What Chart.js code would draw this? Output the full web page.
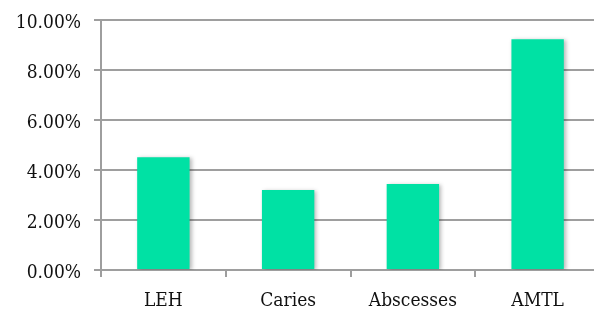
<!DOCTYPE html>
<html>
<head>
<meta charset="utf-8">
<script src="https://cdn.jsdelivr.net/npm/chart.js@4/dist/chart.umd.min.js"></script>
<style>
html,body{margin:0;padding:0;background:#fff;overflow:hidden;}
#wrap{width:600px;height:309px;position:relative;}
</style>
</head>
<body>
<div id="wrap"><canvas id="c"></canvas></div>
<script>
const categories = ["LEH", "Caries", "Abscesses", "AMTL"];
const values = [4.51, 3.2, 3.44, 9.23];
const yTicks = [0, 2, 4, 6, 8, 10];

const shadowPlugin = {
  id: 'barShadow',
  beforeDatasetsDraw(chart) {
    const ctx = chart.ctx;
    ctx.save();
    ctx.shadowColor = 'rgba(0,0,0,0.28)';
    ctx.shadowBlur = 4;
    ctx.shadowOffsetX = 2;
    ctx.shadowOffsetY = 1;
  },
  afterDatasetsDraw(chart) {
    chart.ctx.restore();
  }
};

const fontFam = "'DejaVu Serif Condensed', 'DejaVu Serif', serif";
const gridColor = '#9e9e9e';
new Chart(document.getElementById('c'), {
  type: 'bar',
  data: {
    labels: categories,
    datasets: [{
      data: values,
      backgroundColor: '#00e1a4',
      borderWidth: 0,
      barPercentage: 0.84,
      categoryPercentage: 0.5
    }]
  },
  options: {
    responsive: true,
    maintainAspectRatio: false,
    animation: false,
    devicePixelRatio: 1,
    layout: { padding: { top: 20, left: 0, right: 0, bottom: 0 } },
    plugins: { legend: { display: false }, tooltip: { enabled: false } },
    scales: {
      x: {
        afterFit(scale) { scale.height = 39; scale.paddingLeft = 0; scale.paddingRight = 0; },
        grid: { display: true, drawOnChartArea: false, drawTicks: true, tickLength: 7, color: gridColor, lineWidth: 2, offset: true },
        border: { display: true, color: gridColor, width: 2 },
        ticks: { color: '#111', font: { family: fontFam, size: 19 }, padding: 13, maxRotation: 0 }
      },
      y: {
        min: 0, max: 10,
        afterFit(scale) { scale.width = 101; scale.paddingTop = 0; scale.paddingBottom = 0; },
        afterBuildTicks(scale) { scale.ticks = yTicks.map(v => ({ value: v })); },
        grid: { color: gridColor, lineWidth: 2, tickLength: 7, drawTicks: true },
        border: { display: true, color: gridColor, width: 2 },
        ticks: {
          color: '#111',
          font: { family: fontFam, size: 19 },
          padding: 13,
          labelOffset: 3,
          callback: v => Number(v).toFixed(2) + '%'
        }
      }
    }
  },
  plugins: [shadowPlugin]
});
</script>
</body>
</html>
